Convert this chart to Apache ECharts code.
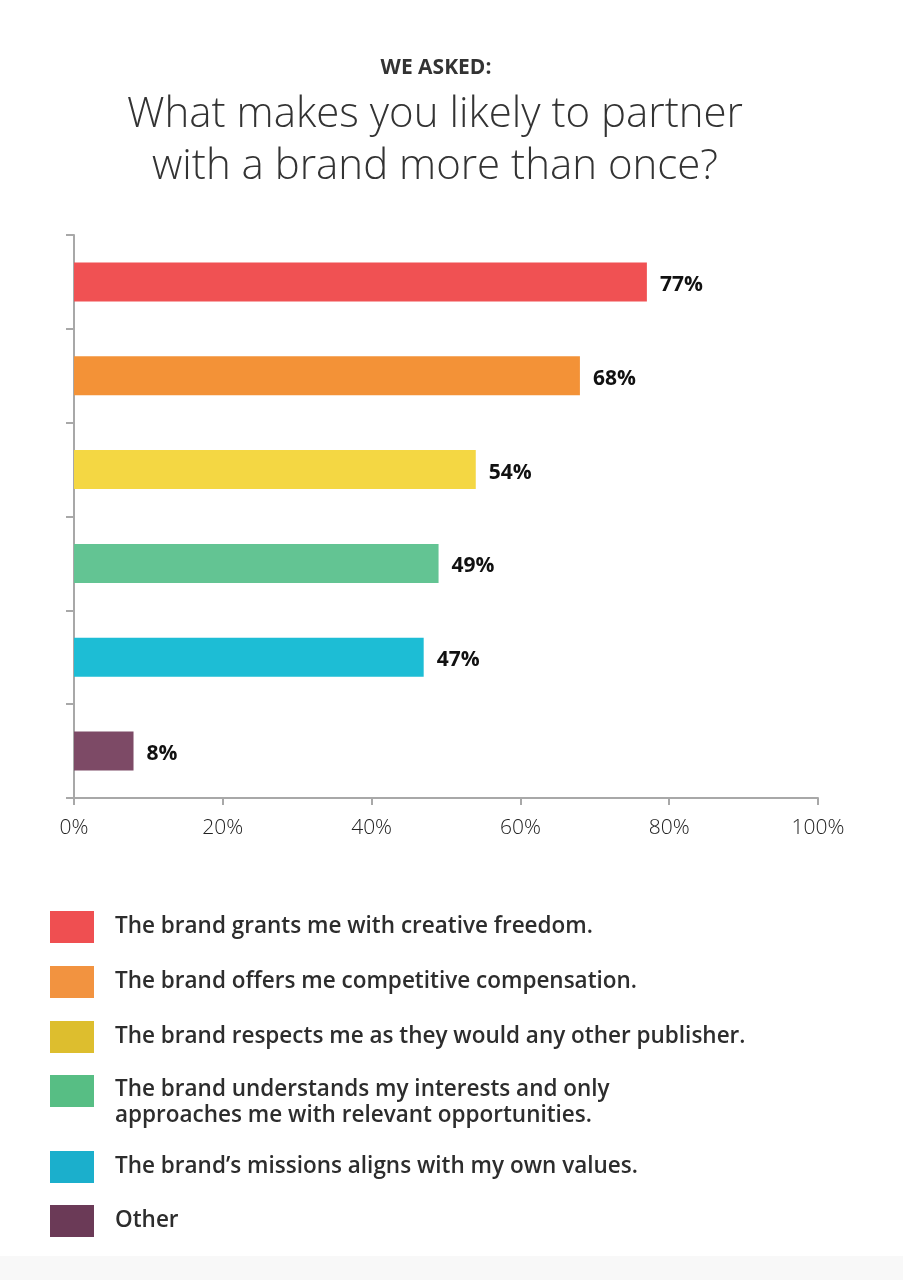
<!DOCTYPE html>
<html>
<head>
<meta charset="utf-8">
<script src="https://cdn.jsdelivr.net/npm/echarts@6/dist/echarts.min.js"></script>
<style>
html,body{margin:0;padding:0;background:#fff;}
#chart{width:903px;height:1280px;}
</style>
</head>
<body>
<div id="chart"></div>
<script>
const categories = [
  "The brand grants me with creative freedom.",
  "The brand offers me competitive compensation.",
  "The brand respects me as they would any other publisher.",
  "The brand understands my interests and only approaches me with relevant opportunities.",
  "The brand’s missions aligns with my own values.",
  "Other"
];
const legendLabels = [
  "The brand grants me with creative freedom.",
  "The brand offers me competitive compensation.",
  "The brand respects me as they would any other publisher.",
  "The brand understands my interests and only\napproaches me with relevant opportunities.",
  "The brand’s missions aligns with my own values.",
  "Other"
];
const values = [77, 68, 54, 49, 47, 8];
const barColors = ["#F05153", "#F39237", "#F4D743", "#63C493", "#1DBDD5", "#7D4A66"];
const legendColors = ["#EF4F51", "#F29340", "#DDBE2E", "#57BE84", "#1BAFCC", "#6B3A57"];
const xTicks = [0, 20, 40, 60, 80, 100];

const FONT = "'Open Sans', Lato, sans-serif";
const chart = echarts.init(document.getElementById('chart'), null, {renderer: 'canvas'});

const series = categories.map((c, i) => ({
  name: c,
  type: 'bar',
  stack: 'all',
  barWidth: 39,
  itemStyle: {color: barColors[i]},
  label: {
    show: true,
    position: 'right',
    distance: 13,
    offset: [0, 3],
    formatter: p => p.value + '%',
    color: '#111',
    fontFamily: FONT,
    fontWeight: 'bold',
    fontSize: 21
  },
  data: categories.map((_, j) => j === i ? values[i] : '-')
}));

function legendItems(idx) {
  return idx.map(i => ({
    name: categories[i],
    itemStyle: {color: legendColors[i]}
  }));
}
const labelMap = {};
categories.forEach((c, i) => labelMap[c] = legendLabels[i]);

const legendBase = {
  orient: 'vertical',
  left: 50,
  padding: 0,
  icon: 'path://M60,0 M0,0 L44,0 L44,32 L0,32 Z',
  itemWidth: 60,
  itemHeight: 32,
  itemGap: 23,
  formatter: n => labelMap[n],
  textStyle: {
    color: '#2d2d2d',
    fontFamily: FONT,
    fontWeight: 600,
    fontSize: 22.5
  }
};

chart.setOption({
  backgroundColor: '#fff',
  animation: false,
  title: [
    {
      text: 'WE ASKED:',
      left: 431,
      top: 53,
      textAlign: 'center',
      textStyle: {color: '#333', fontFamily: FONT, fontWeight: 'bold', fontSize: 21}
    },
    {
      text: 'What makes you likely to partner\nwith a brand more than once?',
      left: 430,
      top: 84,
      textAlign: 'center',
      textStyle: {color: '#333', fontFamily: FONT, fontWeight: 300, fontSize: 42, lineHeight: 52}
    }
  ],
  graphic: [{
    type: 'rect',
    left: 0, top: 1256,
    shape: {width: 903, height: 24},
    style: {fill: '#f8f8f8'},
    silent: true,
    z: -10
  }],
  legend: [
    Object.assign({}, legendBase, {top: 911, data: legendItems([0, 1, 2])}),
    Object.assign({}, legendBase, {
      top: 1075,
      icon: 'path://M60,56 M0,0 L44,0 L44,32 L0,32 Z',
      itemHeight: 56,
      data: legendItems([3]),
      textStyle: Object.assign({}, legendBase.textStyle, {lineHeight: 26})
    }),
    Object.assign({}, legendBase, {top: 1151, itemGap: 22, data: legendItems([4, 5])})
  ],
  grid: {left: 74, right: 85, top: 235, bottom: 482, containLabel: false},
  xAxis: {
    type: 'value',
    min: 0,
    max: 100,
    interval: 20,
    splitLine: {show: false},
    axisLine: {show: true, lineStyle: {color: '#a8a8a8', width: 2}},
    axisTick: {show: true, length: 7, lineStyle: {color: '#a8a8a8', width: 2}},
    axisLabel: {
      formatter: v => xTicks.includes(v) ? v + '%' : '',
      color: '#222',
      fontFamily: FONT,
      fontWeight: 300,
      fontSize: 21,
      margin: 20
    }
  },
  yAxis: {
    type: 'category',
    inverse: true,
    data: categories,
    axisLine: {show: true, lineStyle: {color: '#a8a8a8', width: 2}},
    axisTick: {show: true, length: 8, lineStyle: {color: '#a8a8a8', width: 2}},
    axisLabel: {show: false}
  },
  series: series
});
</script>
</body>
</html>
